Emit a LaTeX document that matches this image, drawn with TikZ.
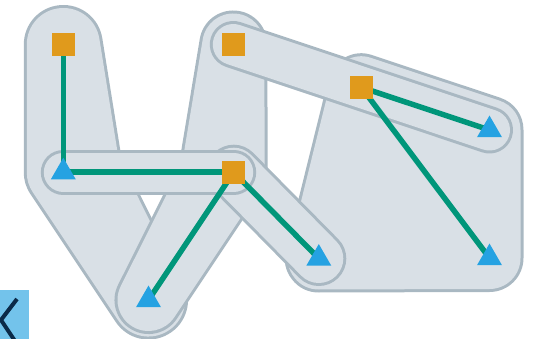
\documentclass[tikz,border=0pt]{standalone}
\usetikzlibrary{shapes.geometric}
\definecolor{hf}{HTML}{D9E0E6}
\definecolor{hl}{HTML}{A9B8C2}
\definecolor{eg}{HTML}{00967A}
\definecolor{sqc}{HTML}{E09A1C}
\definecolor{trc}{HTML}{25A2E2}
\definecolor{btn}{HTML}{73C3EB}
\definecolor{chev}{HTML}{0B2A48}
\begin{document}
\begin{tikzpicture}[x=1pt,y=-1pt,
  sqnode/.style={rectangle, fill=sqc, minimum size=23pt, inner sep=0pt, outer sep=0pt},
  trinode/.style={regular polygon, regular polygon sides=3, fill=trc, minimum size=28.9pt, inner sep=0pt, outer sep=0pt},
  edgeline/.style={draw=eg, line width=5.5pt},
  hullo/.style={draw=hl, fill=hl, line join=round, line cap=round},
  hulli/.style={draw=hf, fill=hf, line join=round, line cap=round},
]
\useasboundingbox (0,0) rectangle (538,339);
\clip (0,0) rectangle (538,339);
% positions
\coordinate (A) at (63.3,44.5);
\coordinate (B) at (233.3,44.5);
\coordinate (C) at (361.3,87.3);
\coordinate (D) at (233.7,172.2);
\coordinate (E) at (63.3,172.2);
\coordinate (F) at (148.5,300);
\coordinate (G) at (318.8,258.5);
\coordinate (H) at (489.5,130);
\coordinate (I) at (489.5,258);
\coordinate (P) at (83.4,169.6);
\coordinate (Q) at (211.9,173.5);
% hull 1 {A,E,F}
\path[hullo, line width=79pt] (A) -- (P) -- (F) -- (E) -- cycle;
\path[hulli, line width=73pt] (A) -- (P) -- (F) -- (E) -- cycle;
% hull 3 {B,D,F}
\path[hullo, line width=68pt] (B) -- (D) -- (F) -- (Q) -- cycle;
\path[hulli, line width=62pt] (B) -- (D) -- (F) -- (Q) -- cycle;
% hull 6 {C,H,I,G}
\path[hullo, line width=68pt] (C) -- (H) -- (I) -- (G) -- cycle;
\path[hulli, line width=62pt] (C) -- (H) -- (I) -- (G) -- cycle;
% hull 4 {D,G}
\path[hullo, line width=55pt] (D) -- (G);
\path[hulli, line width=49pt] (D) -- (G);
% hull 5 {B,C,H}
\path[hullo, line width=47pt] (B) -- (H);
\path[hulli, line width=41pt] (B) -- (H);
% hull 2 {E,D}
\path[hullo, line width=45pt] (E) -- (D);
\path[hulli, line width=39pt] (E) -- (D);
% edges
\draw[edgeline] (A) -- (E);
\draw[edgeline] (E) -- (D);
\draw[edgeline] (D) -- (F);
\draw[edgeline] (D) -- (G);
\draw[edgeline] (C) -- (H);
\draw[edgeline] (C) -- (I);
% nodes
\node[sqnode] (nA) at (A) {};
\node[sqnode] (nB) at (B) {};
\node[sqnode] (nC) at (C) {};
\node[sqnode] (nD) at (D) {};
\node[trinode] (nE) at (E) {};
\node[trinode] (nF) at (F) {};
\node[trinode] (nG) at (G) {};
\node[trinode] (nH) at (H) {};
\node[trinode] (nI) at (I) {};
% button
\fill[btn] (0,290) rectangle (29,345);
\coordinate (c1) at (17,299);
\coordinate (c2) at (1,320);
\coordinate (c3) at (15,341);
\draw[chev, line width=4pt] (c1) -- (c2) -- (c3);
\end{tikzpicture}
\end{document}
